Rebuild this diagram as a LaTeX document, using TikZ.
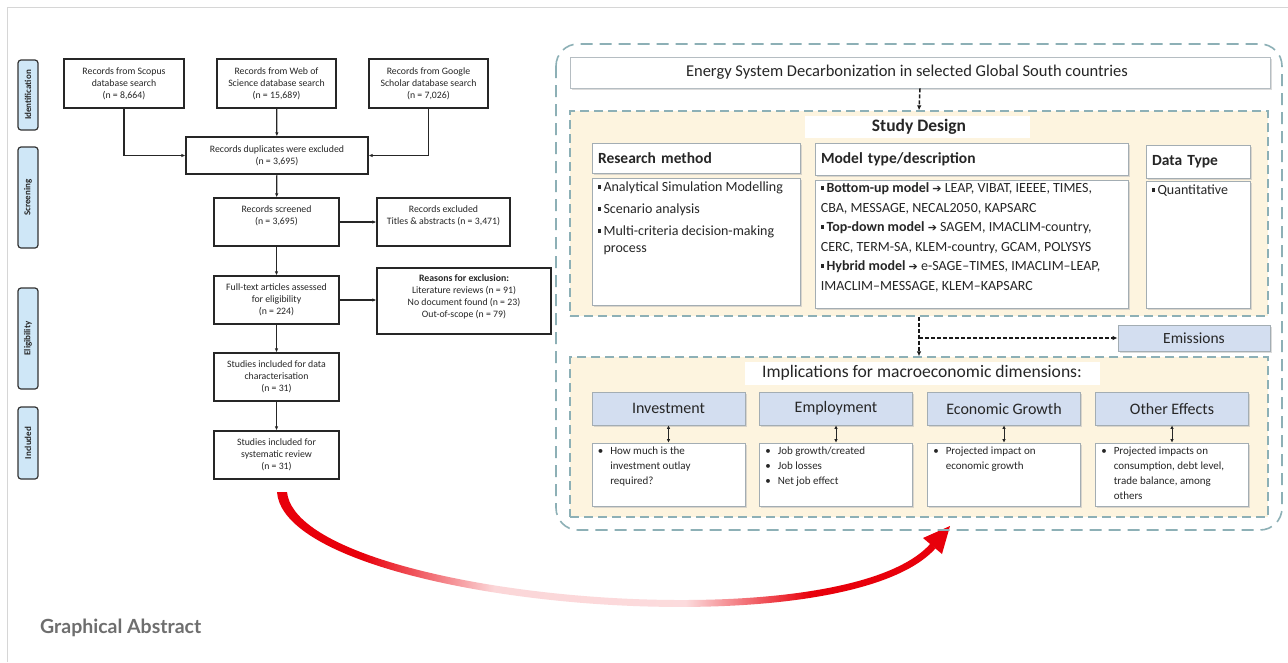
\documentclass[tikz,border=0pt]{standalone}
\usepackage{fontspec}
\setmainfont{Carlito}
\newfontfamily\lato{Lato}
\newfontfamily\djv{DejaVu Sans}
\usetikzlibrary{arrows.meta,shadows,calc}
\definecolor{beige}{HTML}{FDF4DF}
\definecolor{hblue}{HTML}{D3DEF0}
\definecolor{pblue}{HTML}{CFE7F7}
\definecolor{dashc}{HTML}{8DB0B6}
\definecolor{bgray}{HTML}{A3ADB3}
\definecolor{txt}{HTML}{262626}
\definecolor{framec}{HTML}{D6D6D6}
\definecolor{gatxt}{HTML}{6E6E6E}
\definecolor{ared}{HTML}{E8000B}
\pgfdeclarehorizontalshading{redfade}{100bp}{color(0bp)=(ared); color(31.5bp)=(ared); color(41.5bp)=(ared!16); color(56bp)=(ared!14); color(65.5bp)=(ared); color(100bp)=(ared)}
\newcommand\sqb{\rule[0.2em]{3.4pt}{3.4pt}\,}
\newcommand\bl{\textbullet\hspace{7pt}}
\newcommand\ind{\hphantom{\textbullet\hspace{7pt}}}
\newcommand\rar{{\djv\bfseries\fontsize{11}{12}\selectfont ➔}}
\tikzset{
 prisma/.style={draw=black!85, line width=1.3pt, fill=white, align=center, font=\fontsize{9.8}{12}\selectfont, text=txt, inner sep=1pt},
 phase/.style={draw=black!80, line width=1.2pt, fill=pblue, rounded corners=3pt, rotate=90, minimum height=20, font=\bfseries\fontsize{9}{10}\selectfont, text=txt, inner sep=0pt},
 parr/.style={-{Latex[length=4pt,width=3.5pt]}, line width=1.2pt, draw=black!85},
 shad/.style={drop shadow={shadow xshift=1.6pt, shadow yshift=-1.6pt, fill=black!28}},
 hdr/.style={shad, draw=bgray, line width=0.8pt, fill=white, font=\bfseries\fontsize{15.5}{17}\selectfont, text=txt, inner sep=0pt},
 bodybox/.style={shad, draw=bgray, line width=0.8pt, fill=white, inner sep=0pt},
 bhdr/.style={shad, draw=bgray, line width=0.8pt, fill=hblue, font=\fontsize{16}{18}\selectfont, text=txt, inner sep=0pt, minimum width=153, minimum height=33},
 ibody/.style={shad, draw=bgray, line width=0.8pt, fill=white, inner sep=0pt, minimum width=153, minimum height=63},
 itext/.style={anchor=north west, align=left, font=\fontsize{11}{15}\selectfont, text=txt, inner sep=0pt},
 dbox/.style={draw=dashc, dash pattern=on 9pt off 5pt, line width=1.3pt, fill=beige, inner sep=0pt},
 darr/.style={-{Latex[length=5pt,width=4.5pt]}, line width=1.5pt, dash pattern=on 4pt off 2pt, draw=black!90},
 dbl/.style={{Latex[length=3.5pt,width=3.5pt]}-{Latex[length=3.5pt,width=3.5pt]}, line width=0.9pt, draw=black!85},
}
\begin{document}
\begin{tikzpicture}[x=1pt,y=-1pt]
\useasboundingbox (0,0) rectangle (1288,662);
\fill[white] (0,0) rectangle (1288,662);
\draw[framec, line width=1pt] (7,662) -- (7,7) -- (1288,7);

% ---------- PRISMA ----------
\node[phase, minimum width=70] (pid) at (28,95) {Identification};
\node[phase, minimum width=101] (psc) at (28,197.5) {Screening};
\node[phase, minimum width=101] (pel) at (28,338.5) {Eligibility};
\node[phase, minimum width=72] (pin) at (28,443) {Included};

\node[prisma, minimum width=120, minimum height=49] (scopus) at (124,83.5) {Records from Scopus\\database search\\(n = 8,664)};
\node[prisma, minimum width=119, minimum height=49] (wos) at (276.5,83.5) {Records from Web of\\Science database search\\(n = 15,689)};
\node[prisma, minimum width=119, minimum height=49] (google) at (428.5,83.5) {Records from Google\\Scholar database search\\(n = 7,026)};
\node[prisma, minimum width=182, minimum height=37] (dup) at (277,155.5) {Records duplicates were excluded\\(n = 3,695)};
\node[prisma, minimum width=125, minimum height=48, text depth=14pt] (screened) at (276.5,222) {Records screened\\(n = 3,695)};
\node[prisma, minimum width=133, minimum height=48, text depth=14pt] (excluded) at (443.5,222) {Records excluded\\Titles \& abstracts (n = 3,471)};
\node[prisma, minimum width=125, minimum height=48] (full) at (276.5,300) {Full-text articles assessed\\for eligibility\\(n = 224)};
\node[prisma, minimum width=174, minimum height=66, text depth=10pt] (reasons) at (464,301) {\textbf{Reasons for exclusion:}\\Literature reviews (n = 91)\\No document found (n = 23)\\Out-of-scope (n = 79)};
\node[prisma, minimum width=125, minimum height=48] (data) at (276.5,377) {Studies included for data\\characterisation\\(n = 31)};
\node[prisma, minimum width=125, minimum height=48] (syst) at (276.5,455) {Studies included for\\systematic review\\(n = 31)};

\draw[parr] (scopus.south) |- (dup.west);
\draw[parr] (google.south) |- (dup.east);
\draw[parr] (wos) -- (dup);
\draw[parr] (dup) -- (screened);
\draw[parr] (screened.east) -- (excluded.west);
\draw[parr] (screened) -- (full);
\draw[parr] (full.east) -- (full.east -| reasons.west);
\draw[parr] (full) -- (data);
\draw[parr] (data) -- (syst);

% ---------- red curved arrow ----------
\shade[shading=redfade] (277,492) .. controls (285,604) and (840,655) .. (935.6,548.3)
   -- (930.4,543.7) .. controls (840,646) and (298,597) .. (287,492) -- cycle;
\fill[ared] (950,526) -- (942,554) -- (923,538) -- cycle;

% ---------- right panel ----------
\draw[dashc, line width=1.6pt, dash pattern=on 12pt off 7pt, rounded corners=22pt] (556,44) rectangle (1282,530);

\node[draw=bgray!80, line width=0.8pt, fill=white, shad, minimum width=700, minimum height=31, inner sep=0pt, font=\fontsize{16.5}{18}\selectfont, text=txt] (title) at (920,72.5) {Energy System Decarbonization in selected Global South countries\hspace*{26pt}};

\node[dbox, minimum width=698, minimum height=205] (sd) at (919,213.5) {};
\fill[white] (805,116) rectangle (1030,138);
\node[font=\bfseries\fontsize{17.5}{19}\selectfont, text=txt] (sdl) at (919,127) {Study Design};

\node[hdr, minimum width=208, minimum height=30, text width=196, align=left] (rmh) at (696,158) {Research method};
\node[bodybox, minimum width=208, minimum height=127] (rmb) at (696,241.5) {};
\node[anchor=north west, align=left, font=\fontsize{14}{17}\selectfont, text=txt, inner sep=0pt] (rmt) at ($(rmb.north west)+(6,4)$) {\sqb Analytical Simulation Modelling\\[5pt]\sqb Scenario analysis\\[5pt]\sqb Multi-criteria decision-making\\\hphantom{\sqb}process};

\node[hdr, minimum width=313, minimum height=32, text width=301, align=left] (mth) at (971.5,159) {Model type/description};
\node[bodybox, minimum width=313, minimum height=128] (mtb) at (971.5,244) {};
\node[anchor=north west, align=left, font=\fontsize{14}{19.5}\selectfont, text=txt, inner sep=0pt] (mtt) at ($(mtb.north west)+(6,3)$) {\sqb\textbf{Bottom-up model} \rar\ LEAP, VIBAT, IEEEE, TIMES,\\CBA, MESSAGE, NECAL2050, KAPSARC\\\sqb\textbf{Top-down model} \rar\ SAGEM, IMACLIM-country,\\CERC, TERM-SA, KLEM-country, GCAM, POLYSYS\\\sqb\textbf{Hybrid model} \rar\ e-SAGE–TIMES, IMACLIM–LEAP,\\IMACLIM–MESSAGE, KLEM–KAPSARC};

\node[hdr, minimum width=104, minimum height=33, text width=92, align=left] (dth) at (1198,161.5) {Data Type};
\node[bodybox, minimum width=104, minimum height=127] (dtb) at (1198,244.5) {};
\node[anchor=north west, align=left, font=\fontsize{14}{17}\selectfont, text=txt, inner sep=0pt] (dtt) at ($(dtb.north west)+(6,4)$) {\sqb Quantitative};

\node[shad, draw=bgray, line width=0.8pt, fill=hblue, minimum width=152, minimum height=26, inner sep=0pt, font=\fontsize{15.5}{17}\selectfont, text=txt] (em) at (1194,338) {Emissions};

\node[dbox, minimum width=698, minimum height=160] (imp) at (919,437) {};
\fill[white] (745,362) rectangle (1100,385);
\node[font=\fontsize{17.6}{19}\selectfont, text=txt] (impl) at (922,373) {Implications for macroeconomic dimensions:};

\draw[darr] (title.south) -- (sd.north);
\draw[darr] (sd.south) -- (imp.north);
\coordinate (br) at (sd.south |- em.west);
\draw[darr] (br) -- (em.west);

\node[bhdr] (h1) at (668.5,408.5) {Investment};
\node[bhdr] (h2) at (836,408.5) {Employment};
\node[bhdr] (h3) at (1004,408.5) {Economic Growth};
\node[bhdr] (h4) at (1172,408.5) {Other Effects};
\node[ibody] (b1) at (668.5,474.5) {};
\node[ibody] (b2) at (836,474.5) {};
\node[ibody] (b3) at (1004,474.5) {};
\node[ibody] (b4) at (1172,474.5) {};
\foreach \i in {1,2,3,4} {\draw[dbl] (h\i.south) -- (b\i.north);}
\node[itext] (t1) at ($(b1.north west)+(6,4)$) {\bl How much is the\\\ind investment outlay\\\ind required?};
\node[itext] (t2) at ($(b2.north west)+(6,4)$) {\bl Job growth/created\\\bl Job losses\\\bl Net job effect};
\node[itext] (t3) at ($(b3.north west)+(6,4)$) {\bl Projected impact on\\\ind economic growth};
\node[itext] (t4) at ($(b4.north west)+(6,4)$) {\bl Projected impacts on\\\ind consumption, debt level,\\\ind trade balance, among\\\ind others};

\node[anchor=west, font=\lato\bfseries\fontsize{19.5}{22}\selectfont, text=gatxt, inner sep=0pt] (ga) at (40,628) {Graphical Abstract};
\end{tikzpicture}
\end{document}
